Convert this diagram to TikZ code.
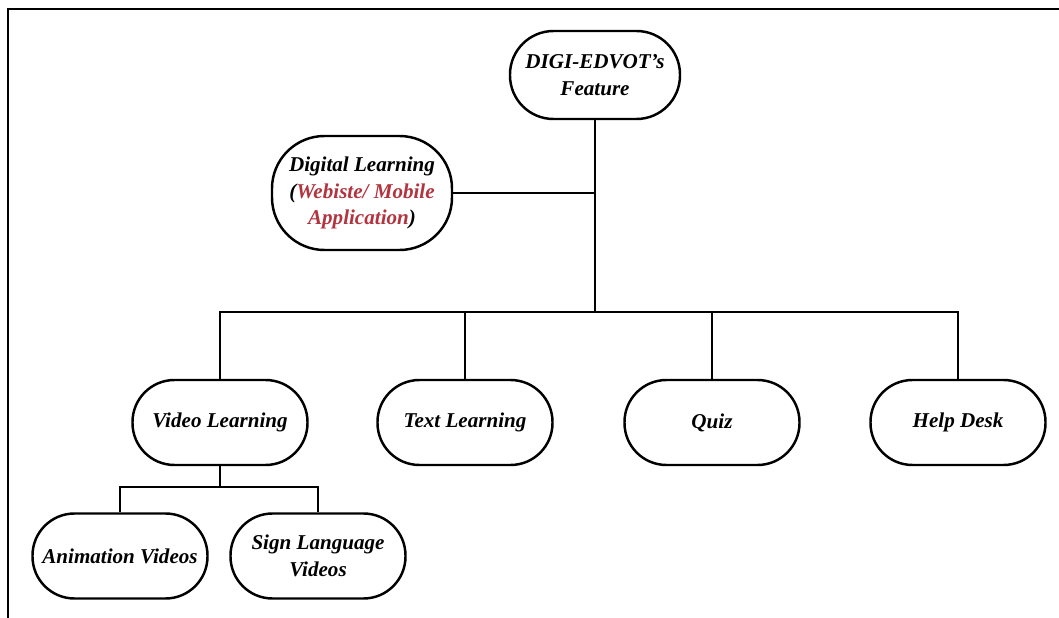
\documentclass[tikz,border=0pt]{standalone}
\usepackage{fontspec}
\setmainfont{Liberation Serif}
\definecolor{webred}{RGB}{178,52,62}
\tikzset{
  feat/.style={draw, line width=1.4pt, rounded corners=0.84cm, align=center,
    minimum width=3.5cm, minimum height=1.7cm, inner sep=2pt,
    font=\fontsize{12}{15}\selectfont\bfseries\itshape},
  link/.style={line width=1.4pt}
}
\begin{document}
\begin{tikzpicture}
  \useasboundingbox (0,0) rectangle (21.18,-12.36);
  \draw [line width=1.3pt] (0.16,-12.36) -- (0.16,-0.18) -- (21.18,-0.18);
  % top of the tree
  \node[feat, minimum width=3.4cm, minimum height=1.76cm, rounded corners=0.87cm] (root) at (11.9,-1.5) {DIGI-EDVOT's\\Feature};
  \node[feat, minimum width=3.6cm, minimum height=2.28cm, rounded corners=1.05cm] (digital) at (7.24,-3.86)
    {Digital Learning\\(\textcolor{webred}{Webiste/ Mobile}\\\textcolor{webred}{Application})};
  % second row
  \node[feat] (video) at (4.4,-8.45) {Video Learning};
  \node[feat] (text)  at (9.3,-8.45) {Text Learning};
  \node[feat] (quiz)  at (14.24,-8.45) {Quiz};
  \node[feat] (help)  at (19.16,-8.45) {Help Desk};
  % third row
  \node[feat] (anim) at (2.4,-11.12) {Animation Videos};
  \node[feat] (sign) at (6.36,-11.12) {Sign Language\\Videos};
  \coordinate (hub) at (11.9,-3.86);
  \coordinate (bus) at (11.9,-6.24);
  \coordinate (sub) at (4.4,-9.74);
  \draw [link] (root.south) -- (bus);
  \draw [link] (digital.east) -- (hub);
  \draw [link] (video.north) |- (bus) -| (help.north);
  \draw [link] (text.north) -- (text.north |- bus);
  \draw [link] (quiz.north) -- (quiz.north |- bus);
  \draw [link] (video.south) -- (sub);
  \draw [link] (anim.north) |- (sub) -| (sign.north);
\end{tikzpicture}
\end{document}
